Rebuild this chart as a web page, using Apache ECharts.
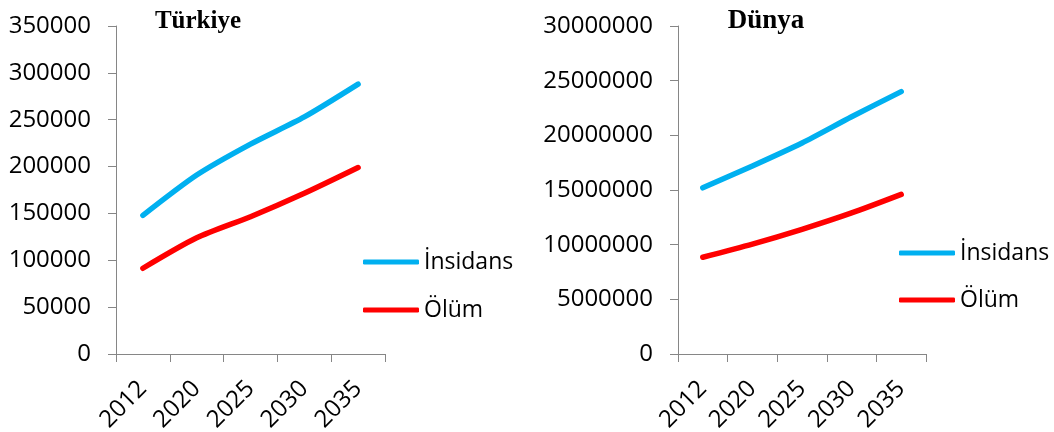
<!DOCTYPE html>
<html>
<head>
<meta charset="utf-8">
<script src="https://cdn.jsdelivr.net/npm/echarts@6/dist/echarts.min.js"></script>
<style>
  html, body { margin: 0; padding: 0; background: #ffffff; }
  #chart { width: 1054px; height: 432px; }
</style>
</head>
<body>
<div id="chart"></div>
<script>
// Cancer incidence and deaths: Türkiye vs. world projections
const years = ['2012', '2020', '2025', '2030', '2035'];
const turkeyIncidence = [148000, 191000, 224000, 253000, 288000];
const turkeyDeaths = [91500, 124000, 146500, 171500, 199000];
const worldIncidence = [15200000, 17200000, 19300000, 21700000, 24000000];
const worldDeaths = [8850000, 10050000, 11400000, 12900000, 14600000];
const seriesNames = ['İnsidans', 'Ölüm'];
const panelTitles = ['Türkiye', 'Dünya'];
const colors = ['#00B0F0', '#FF0000'];

const axisGray = '#868686';
const labelFont = { fontFamily: 'Open Sans', fontSize: 24, color: '#000000' };

function xAxisFor(gridIndex) {
  return {
    type: 'category', gridIndex, data: years, boundaryGap: true,
    axisLine: { show: true, lineStyle: { color: axisGray, width: 1 } },
    axisTick: { show: true, length: 8, interval: 0, lineStyle: { color: axisGray } },
    axisLabel: Object.assign({ rotate: 45, interval: 0, margin: 31 }, labelFont),
    splitLine: { show: false }
  };
}

function yAxisFor(gridIndex, max, interval) {
  return {
    type: 'value', gridIndex, min: 0, max, interval,
    axisLine: { show: true, lineStyle: { color: axisGray, width: 1 } },
    axisTick: { show: true, length: 8, lineStyle: { color: axisGray } },
    axisLabel: Object.assign({ margin: 25, formatter: (v) => String(v) }, labelFont),
    splitLine: { show: false }
  };
}

function lineSeries(name, data, idx, color) {
  return {
    type: 'line', name, data, xAxisIndex: idx, yAxisIndex: idx,
    smooth: 0.25, showSymbol: false, symbol: 'none',
    lineStyle: { color, width: 5.5, cap: 'round', join: 'round' },
    itemStyle: { color },
    emphasis: { disabled: true }, animation: false
  };
}

function legendItem(name, color, left, top) {
  return {
    data: [{ name, icon: 'roundRect', itemStyle: { color } }],
    left, top, orient: 'vertical',
    itemWidth: 56, itemHeight: 5, padding: 0,
    selectedMode: false,
    textStyle: Object.assign({ lineHeight: 24 }, labelFont, { fontSize: 23 })
  };
}

const chart = echarts.init(document.getElementById('chart'), null, { renderer: 'canvas' });

chart.setOption({
  animation: false,
  backgroundColor: '#ffffff',
  title: [
    { text: panelTitles[0], left: 193, top: 4, textAlign: 'center',
      textStyle: { fontFamily: 'Liberation Serif', fontWeight: 'bold', fontSize: 25, color: '#000' } },
    { text: panelTitles[1], left: 761, top: 3, textAlign: 'center',
      textStyle: { fontFamily: 'Liberation Serif', fontWeight: 'bold', fontSize: 27, color: '#000' } }
  ],
  grid: [
    { left: 116, top: 26, width: 269, height: 328, containLabel: false, outerBoundsMode: 'none' },
    { left: 678, top: 26, width: 248, height: 328, containLabel: false, outerBoundsMode: 'none' }
  ],
  xAxis: [xAxisFor(0), xAxisFor(1)],
  yAxis: [yAxisFor(0, 350000, 50000), yAxisFor(1, 30000000, 5000000)],
  legend: [
    legendItem(seriesNames[0], colors[0], 363, 250),
    legendItem(seriesNames[1], colors[1], 363, 298),
    legendItem(seriesNames[0], colors[0], 899, 241),
    legendItem(seriesNames[1], colors[1], 899, 288)
  ],
  series: [
    lineSeries(seriesNames[0], turkeyIncidence, 0, colors[0]),
    lineSeries(seriesNames[1], turkeyDeaths, 0, colors[1]),
    lineSeries(seriesNames[0], worldIncidence, 1, colors[0]),
    lineSeries(seriesNames[1], worldDeaths, 1, colors[1])
  ]
});
</script>
</body>
</html>
